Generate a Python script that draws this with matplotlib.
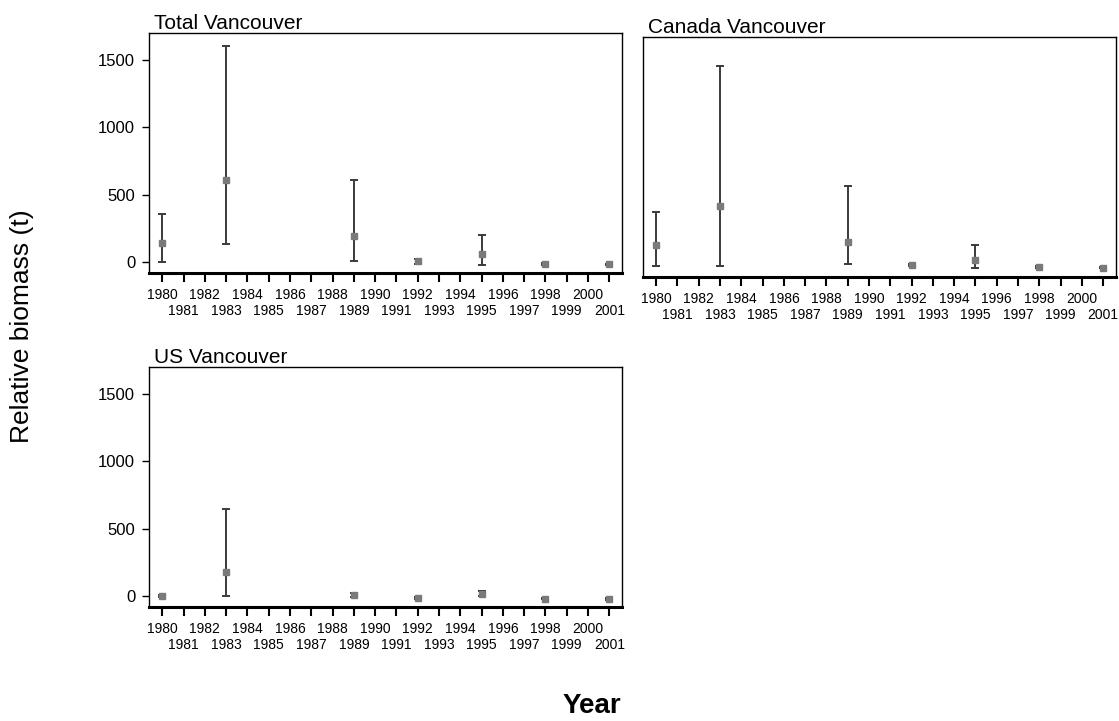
import numpy as np
import matplotlib.pyplot as plt

plt.rcParams['font.family'] = ['Liberation Sans', 'DejaVu Sans']

years = [1980, 1983, 1989, 1992, 1995, 1998, 2001]

# Total Vancouver: estimate, lower, upper
total_est = [144, 606, 193, 5, 62, -15, -17]
total_lo = [0, 136, 7, -12, -20, -22, -22]
total_hi = [359, 1604, 606, 25, 203, -8, -12]

# Canada Vancouver
canada_est = [157, 447, 179, 7, 44, -8, -13]
canada_lo = [0, 0, 15, -3, -13, -13, -18]
canada_hi = [402, 1485, 597, 17, 157, -3, -8]

# US Vancouver
us_est = [0, 175, 5, -12, 12, -20, -22]
us_lo = [-5, 0, -10, -20, 0, -25, -27]
us_hi = [5, 642, 20, -5, 35, -15, -17]

panels = [
    ('Total Vancouver', total_est, total_lo, total_hi, [0.1332, 0.6214, 0.4227, 0.3329], True),
    ('Canada Vancouver', canada_est, canada_lo, canada_hi, [0.5746, 0.6158, 0.4227, 0.3329], False),
    ('US Vancouver', us_est, us_lo, us_hi, [0.1332, 0.1581, 0.4227, 0.3329], True),
]

even_years = list(range(1980, 2002, 2))
odd_years = list(range(1981, 2002, 2))

fig = plt.figure(figsize=(11.19, 7.21), dpi=100)

for title, est, lo, hi, rect, show_y in panels:
    ax = fig.add_axes(rect)
    est = np.array(est)
    err = [est - np.array(lo), np.array(hi) - est]
    ax.errorbar(years, est, yerr=err, fmt='none', ecolor='#3a3a3a',
                elinewidth=1.4, capsize=3.2, capthick=1.4)
    ax.plot(years, est, 's', color='#7a7a7a', markersize=5, zorder=3)
    ax.set_xlim(1979.38, 2001.6)
    ax.set_ylim(-82, 1700)
    # even years on the first row, odd years on a second row below
    ax.set_xticks(even_years)
    ax.set_xticklabels([str(y) for y in even_years], fontsize=10)
    ax.set_xticks(odd_years, minor=True)
    ax.set_xticklabels([str(y) for y in odd_years], minor=True, fontsize=10)
    ax.tick_params(axis='x', which='major', direction='out', length=6.5, width=1.5, pad=4)
    ax.tick_params(axis='x', which='minor', direction='out', length=6.5, width=1.5, pad=15.5)
    if show_y:
        ax.set_yticks([0, 500, 1000, 1500])
        ax.tick_params(axis='y', direction='out', length=5, width=1.0,
                       labelsize=12, pad=5)
    else:
        ax.set_yticks([])
    for s in ax.spines.values():
        s.set_linewidth(1.0)
    ax.spines['bottom'].set_linewidth(2.2)
    ax.set_title(title, loc='left', fontsize=15, pad=3, x=0.01)

fig.text(0.02, 0.548, 'Relative biomass (t)', rotation=90, fontsize=19,
         ha='center', va='center')
fig.text(0.529, 0.021, 'Year', fontsize=20, fontweight='bold',
         ha='center', va='center')

fig.savefig('out.png', dpi=100)
